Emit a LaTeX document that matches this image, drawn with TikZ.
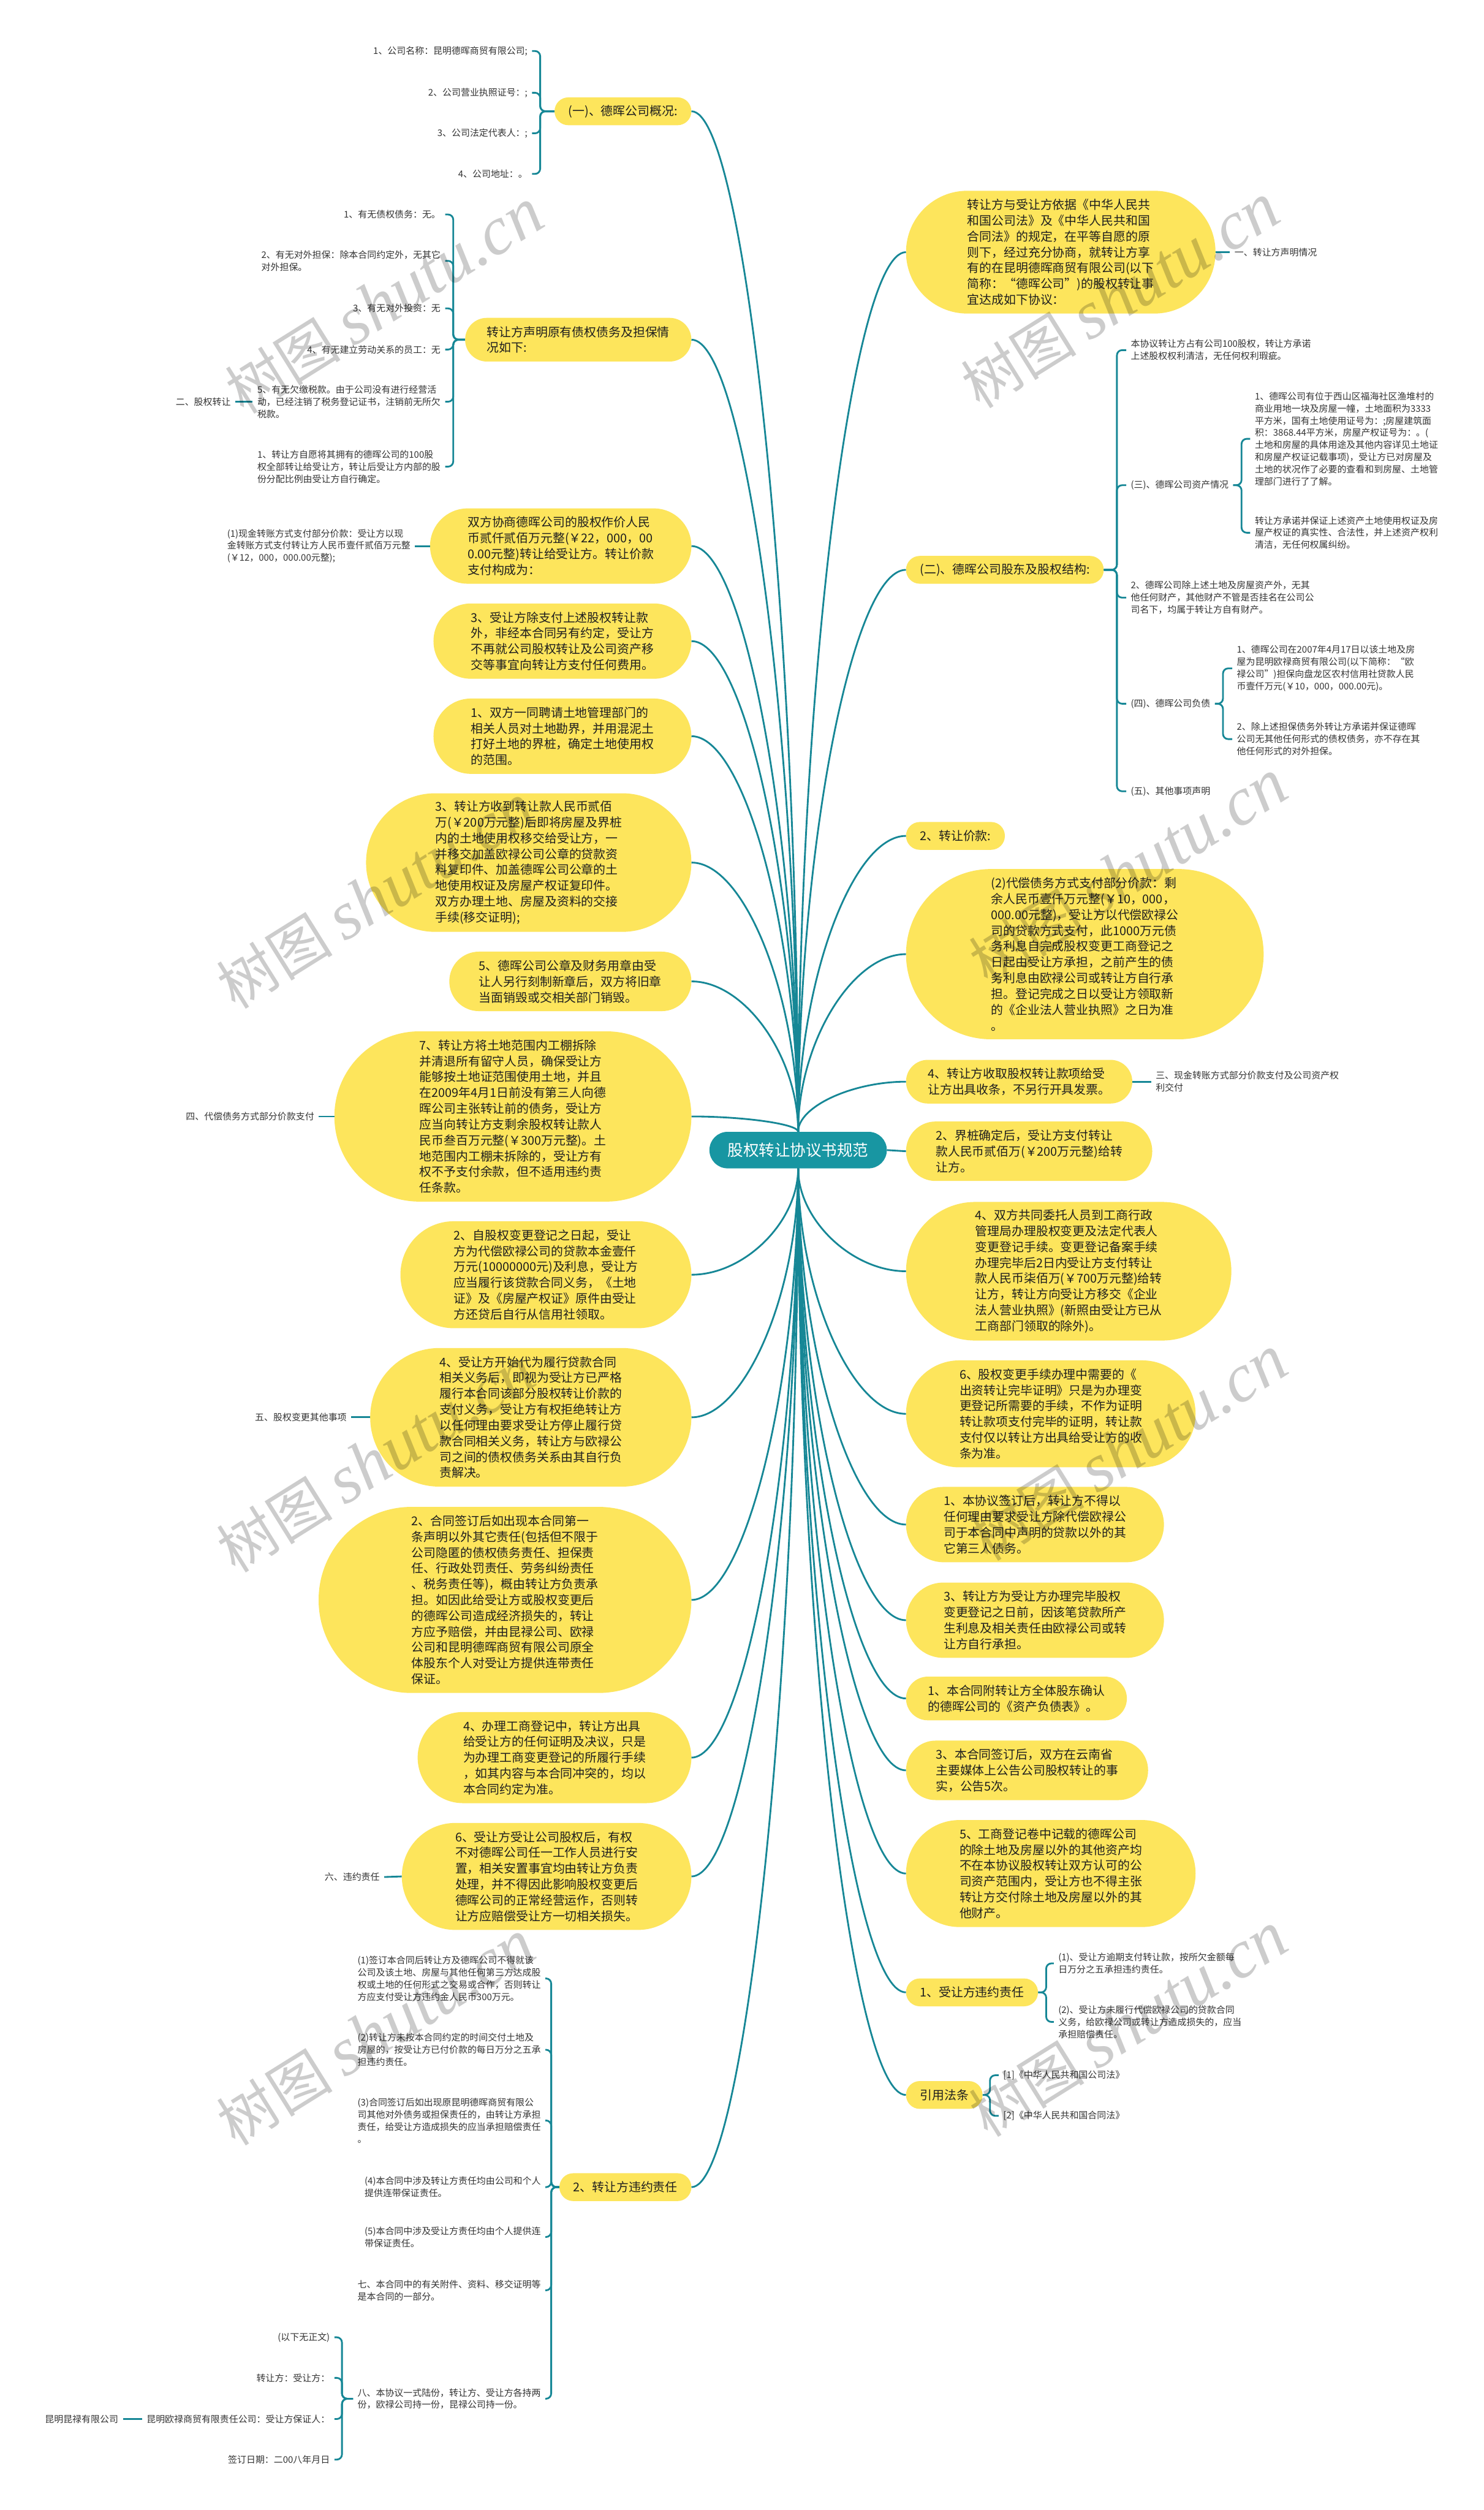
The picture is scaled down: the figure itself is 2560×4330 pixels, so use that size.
\documentclass[tikz,border=0pt]{standalone}
\usepackage{fontspec}
\newfontfamily\cjk{Noto Sans CJK SC}
\newfontfamily\wmlat{Liberation Serif}
\usetikzlibrary{calc}
\definecolor{yelc}{RGB}{253,229,92}
\definecolor{teal1}{RGB}{24,150,162}
\definecolor{linec}{RGB}{22,135,150}
\definecolor{txtd}{RGB}{30,30,30}
\definecolor{txtl}{RGB}{51,51,51}
\newcommand\yfont{\cjk\fontsize{21}{27.3}\selectfont}
\newcommand\lfont{\cjk\fontsize{15.8}{21}\selectfont}
\newcommand\rfont{\cjk\fontsize{27}{32}\selectfont}
\newcommand\mconn[2]{\draw[conn] let \p1=(#1), \p2=(#2) in (\p1) .. controls (\x1,{0.5*(\y1+\y2)}) and ({0.5*(\x1+\x2)},\y2) .. (\p2);}
\newcommand\brL[3]{\draw[br] (#1.west) -| (#2.east -| #3) -- (#2.east);}
\newcommand\brR[3]{\draw[br] (#1.east) -| (#2.west -| #3) -- (#2.west);}
\newcommand\wmtext{{\cjk\fontsize{100}{100}\selectfont 树图}\hspace{22pt}{\wmlat\itshape\fontsize{118}{118}\selectfont shutu.cn}}
\tikzset{
 yel/.style={rectangle, fill=yelc, minimum height={(#1-1)*27.3+48}, rounded corners={((#1-1)*27.3+48)/2-0.2}, inner xsep={((#1-1)*27.3+48)/2}, inner ysep=0pt, align=left, font=\yfont, text=txtd},
 leaf/.style={inner xsep=0pt, inner ysep=1pt, outer xsep=8pt, align=left, font=\lfont, text=txtl},
 conn/.style={draw=linec, line width=3pt},
 br/.style={conn, rounded corners=9pt},
 rootn/.style={rectangle, fill=teal1, minimum height=63pt, rounded corners=31.3pt, inner xsep=31.5pt, inner ysep=0pt, font=\rfont, text=white},
 wm/.style={rotate=32, text=black, text opacity=0.2, inner sep=0pt}
}
\begin{document}
\begin{tikzpicture}[x=1pt,y=-1pt]
\fill[white] (0,0) rectangle (2560,4330);
\useasboundingbox (0,0) rectangle (2560,4330);

\node[rootn] (root) at (1377,1984) {股权转让协议书规范};

% ---------- left main nodes ----------
\node[yel=1, anchor=east] (L1) at (1193,192) {(一)、德晖公司概况:};
\node[yel=2, anchor=east] (L2) at (1193,586) {转让方声明原有债权债务及担保情\\况如下:};
\node[yel=4, anchor=east] (L3) at (1193,942) {双方协商德晖公司的股权作价人民\\币贰仟贰佰万元整(￥22，000，00\\0.00元整)转让给受让方。转让价款\\支付构成为：};
\node[yel=4, anchor=east] (L4) at (1193,1106) {3、受让方除支付上述股权转让款\\外，非经本合同另有约定，受让方\\不再就公司股权转让及公司资产移\\交等事宜向转让方支付任何费用。};
\node[yel=4, anchor=east] (L5) at (1193,1270) {1、双方一同聘请土地管理部门的\\相关人员对土地勘界，并用混泥土\\打好土地的界桩，确定土地使用权\\的范围。};
\node[yel=8, anchor=east] (L6) at (1193,1488) {3、转让方收到转让款人民币贰佰\\万(￥200万元整)后即将房屋及界桩\\内的土地使用权移交给受让方，一\\并移交加盖欧禄公司公章的贷款资\\料复印件、加盖德晖公司公章的土\\地使用权证及房屋产权证复印件。\\双方办理土地、房屋及资料的交接\\手续(移交证明);};
\node[yel=3, anchor=east] (L7) at (1193,1693) {5、德晖公司公章及财务用章由受\\让人另行刻制新章后，双方将旧章\\当面销毁或交相关部门销毁。};
\node[yel=10, anchor=east] (L8) at (1193,1926) {7、转让方将土地范围内工棚拆除\\并清退所有留守人员，确保受让方\\能够按土地证范围使用土地，并且\\在2009年4月1日前没有第三人向德\\晖公司主张转让前的债务，受让方\\应当向转让方支剩余股权转让款人\\民币叁百万元整(￥300万元整)。土\\地范围内工棚未拆除的，受让方有\\权不予支付余款，但不适用违约责\\任条款。};
\node[yel=6, anchor=east] (L9) at (1193,2199) {2、自股权变更登记之日起，受让\\方为代偿欧禄公司的贷款本金壹仟\\万元(10000000元)及利息，受让方\\应当履行该贷款合同义务，《土地\\证》及《房屋产权证》原件由受让\\方还贷后自行从信用社领取。};
\node[yel=8, anchor=east] (L10) at (1193,2445) {4、受让方开始代为履行贷款合同\\相关义务后，即视为受让方已严格\\履行本合同该部分股权转让价款的\\支付义务，受让方有权拒绝转让方\\以任何理由要求受让方停止履行贷\\款合同相关义务，转让方与欧禄公\\司之间的债权债务关系由其自行负\\责解决。};
\node[yel=11, anchor=east] (L11) at (1193,2760) {2、合同签订后如出现本合同第一\\条声明以外其它责任(包括但不限于\\公司隐匿的债权债务责任、担保责\\任、行政处罚责任、劳务纠纷责任\\、税务责任等)，概由转让方负责承\\担。如因此给受让方或股权变更后\\的德晖公司造成经济损失的，转让\\方应予赔偿，并由昆禄公司、欧禄\\公司和昆明德晖商贸有限公司原全\\体股东个人对受让方提供连带责任\\保证。};
\node[yel=5, anchor=east] (L12) at (1193,3032) {4、办理工商登记中，转让方出具\\给受让方的任何证明及决议，只是\\为办理工商变更登记的所履行手续\\，如其内容与本合同冲突的，均以\\本合同约定为准。};
\node[yel=6, anchor=east] (L13) at (1193,3237) {6、受让方受让公司股权后，有权\\不对德晖公司任一工作人员进行安\\置，相关安置事宜均由转让方负责\\处理，并不得因此影响股权变更后\\德晖公司的正常经营运作，否则转\\让方应赔偿受让方一切相关损失。};
\node[yel=1, anchor=east] (L14) at (1193,3773) {2、转让方违约责任};

% ---------- right main nodes ----------
\node[yel=7, anchor=west] (R1) at (1563,435) {转让方与受让方依据《中华人民共\\和国公司法》及《中华人民共和国\\合同法》的规定，在平等自愿的原\\则下，经过充分协商，就转让方享\\有的在昆明德晖商贸有限公司(以下\\简称：“德晖公司”)的股权转让事\\宜达成如下协议：};
\node[yel=1, anchor=west] (R2) at (1563,983) {(二)、德晖公司股东及股权结构:};
\node[yel=1, anchor=west] (R3) at (1563,1442) {2、转让价款:};
\node[yel=10, anchor=west] (R4) at (1563,1646) {(2)代偿债务方式支付部分价款：剩\\余人民币壹仟万元整(￥10，000，\\000.00元整)，受让方以代偿欧禄公\\司的贷款方式支付，此1000万元债\\务利息自完成股权变更工商登记之\\日起由受让方承担，之前产生的债\\务利息由欧禄公司或转让方自行承\\担。登记完成之日以受让方领取新\\的《企业法人营业执照》之日为准\\。};
\node[yel=2, anchor=west] (R5) at (1563,1866) {4、转让方收取股权转让款项给受\\让方出具收条，不另行开具发票。};
\node[yel=3, anchor=west] (R6) at (1563,1986) {2、界桩确定后，受让方支付转让\\款人民币贰佰万(￥200万元整)给转\\让方。};
\node[yel=8, anchor=west] (R7) at (1563,2193) {4、双方共同委托人员到工商行政\\管理局办理股权变更及法定代表人\\变更登记手续。变更登记备案手续\\办理完毕后2日内受让方支付转让\\款人民币柒佰万(￥700万元整)给转\\让方，转让方向受让方移交《企业\\法人营业执照》(新照由受让方已从\\工商部门领取的除外)。};
\node[yel=6, anchor=west] (R8) at (1563,2439) {6、股权变更手续办理中需要的《\\出资转让完毕证明》只是为办理变\\更登记所需要的手续，不作为证明\\转让款项支付完毕的证明，转让款\\支付仅以转让方出具给受让方的收\\条为准。};
\node[yel=4, anchor=west] (R9) at (1563,2630) {1、本协议签订后，转让方不得以\\任何理由要求受让方除代偿欧禄公\\司于本合同中声明的贷款以外的其\\它第三人债务。};
\node[yel=4, anchor=west] (R10) at (1563,2795) {3、转让方为受让方办理完毕股权\\变更登记之日前，因该笔贷款所产\\生利息及相关责任由欧禄公司或转\\让方自行承担。};
\node[yel=2, anchor=west] (R11) at (1563,2930) {1、本合同附转让方全体股东确认\\的德晖公司的《资产负债表》。};
\node[yel=3, anchor=west] (R12) at (1563,3054) {3、本合同签订后，双方在云南省\\主要媒体上公告公司股权转让的事\\实，公告5次。};
\node[yel=6, anchor=west] (R13) at (1563,3232) {5、工商登记卷中记载的德晖公司\\的除土地及房屋以外的其他资产均\\不在本协议股权转让双方认可的公\\司资产范围内，受让方也不得主张\\转让方交付除土地及房屋以外的其\\他财产。};
\node[yel=1, anchor=west] (R14) at (1563,3437) {1、受让方违约责任};
\node[yel=1, anchor=west] (R15) at (1563,3614) {引用法条};

% ---------- bracket x positions ----------
\coordinate (xa) at (932,0);
\coordinate (xb) at (782,0);
\coordinate (xg) at (951,0);
\coordinate (xh) at (590,0);
\coordinate (xs) at (1927,0);
\coordinate (xs3) at (2142,0);
\coordinate (xs4) at (2110,0);
\coordinate (xu) at (1805,0);
\coordinate (xv) at (1708,0);

% ---------- leaves: left ----------
\node[leaf, anchor=east] (a1) at (918,88) {1、公司名称：昆明德晖商贸有限公司;};
\node[leaf, anchor=east] (a2) at (918,160) {2、公司营业执照证号：;};
\node[leaf, anchor=east] (a3) at (918,230) {3、公司法定代表人：;};
\node[leaf, anchor=east] (a4) at (918,300) {4、公司地址：。};

\node[leaf, anchor=east] (b1) at (768,370) {1、有无债权债务：无。};
\node[leaf, anchor=east] (b2) at (768,450) {2、有无对外担保：除本合同约定外，无其它\\对外担保。};
\node[leaf, anchor=east] (b3) at (768,532) {3、有无对外投资：无};
\node[leaf, anchor=east] (b4) at (768,603) {4、有无建立劳动关系的员工：无};
\node[leaf, anchor=east] (b5) at (768,693) {5、有无欠缴税款。由于公司没有进行经营活\\动，已经注销了税务登记证书，注销前无所欠\\税款。};
\node[leaf, anchor=east] (b6) at (768,805) {1、转让方自愿将其拥有的德晖公司的100股\\权全部转让给受让方，转让后受让方内部的股\\份分配比例由受让方自行确定。};
\node[leaf, anchor=east] (b7) at (406,693) {二、股权转让};

\node[leaf, anchor=east] (c1) at (716,942) {(1)现金转账方式支付部分价款：受让方以现\\金转账方式支付转让方人民币壹仟贰佰万元整\\(￥12，000，000.00元整);};
\node[leaf, anchor=east] (d1) at (550,1926) {四、代偿债务方式部分价款支付};
\node[leaf, anchor=east] (e1) at (606,2445) {五、股权变更其他事项};
\node[leaf, anchor=east] (f1) at (663,3238) {六、违约责任};

\node[leaf, anchor=east] (g1) at (941,3413) {(1)签订本合同后转让方及德晖公司不得就该\\公司及该土地、房屋与其他任何第三方达成股\\权或土地的任何形式之交易或合作，否则转让\\方应支付受让方违约金人民币300万元。};
\node[leaf, anchor=east] (g2) at (941,3536) {(2)转让方未按本合同约定的时间交付土地及\\房屋的，按受让方已付价款的每日万分之五承\\担违约责任。};
\node[leaf, anchor=east] (g3) at (941,3658) {(3)合同签订后如出现原昆明德晖商贸有限公\\司其他对外债务或担保责任的，由转让方承担\\责任，给受让方造成损失的应当承担赔偿责任\\。};
\node[leaf, anchor=east] (g4) at (941,3773) {(4)本合同中涉及转让方责任均由公司和个人\\提供连带保证责任。};
\node[leaf, anchor=east] (g5) at (941,3859) {(5)本合同中涉及受让方责任均由个人提供连\\带保证责任。};
\node[leaf, anchor=east] (g6) at (941,3951) {七、本合同中的有关附件、资料、移交证明等\\是本合同的一部分。};
\node[leaf, anchor=east] (g7) at (941,4138) {八、本协议一式陆份，转让方、受让方各持两\\份，欧禄公司持一份，昆禄公司持一份。};

\node[leaf, anchor=east] (h1) at (577,4032) {(以下无正文)};
\node[leaf, anchor=east] (h2) at (577,4102) {转让方：受让方：};
\node[leaf, anchor=east] (h3) at (577,4173) {昆明欧禄商贸有限责任公司：受让方保证人：};
\node[leaf, anchor=east] (h4) at (577,4243) {签订日期：二00八年月日};
\node[leaf, anchor=east] (h5) at (212,4173) {昆明昆禄有限公司};

% ---------- leaves: right ----------
\node[leaf, anchor=west] (r1k) at (2122,435) {一、转让方声明情况};

\node[leaf, anchor=west] (s1) at (1943,604) {本协议转让方占有公司100股权，转让方承诺\\上述股权权利清洁，无任何权利瑕疵。};
\node[leaf, anchor=west] (s2) at (1943,837) {(三)、德晖公司资产情况};
\node[leaf, anchor=west] (s3) at (1943,1031) {2、德晖公司除上述土地及房屋资产外，无其\\他任何财产，其他财产不管是否挂名在公司公\\司名下，均属于转让方自有财产。};
\node[leaf, anchor=west] (s4) at (1943,1214) {(四)、德晖公司负债};
\node[leaf, anchor=west] (s5) at (1943,1365) {(五)、其他事项声明};
\node[leaf, anchor=west] (s6) at (2157,757) {1、德晖公司有位于西山区福海社区渔堆村的\\商业用地一块及房屋一幢，土地面积为3333\\平方米，国有土地使用证号为：;房屋建筑面\\积：3868.44平方米，房屋产权证号为：。(\\土地和房屋的具体用途及其他内容详见土地证\\和房屋产权证记载事项)，受让方已对房屋及\\土地的状况作了必要的查看和到房屋、土地管\\理部门进行了了解。};
\node[leaf, anchor=west] (s7) at (2157,919) {转让方承诺并保证上述资产土地使用权证及房\\屋产权证的真实性、合法性，并上述资产权利\\清洁，无任何权属纠纷。};
\node[leaf, anchor=west] (s8) at (2126,1153) {1、德晖公司在2007年4月17日以该土地及房\\屋为昆明欧禄商贸有限公司(以下简称：“欧\\禄公司”)担保向盘龙区农村信用社贷款人民\\币壹仟万元(￥10，000，000.00元)。};
\node[leaf, anchor=west] (s9) at (2126,1275) {2、除上述担保债务外转让方承诺并保证德晖\\公司无其他任何形式的债权债务，亦不存在其\\他任何形式的对外担保。};

\node[leaf, anchor=west] (t1) at (1986,1866) {三、现金转账方式部分价款支付及公司资产权\\利交付};
\node[leaf, anchor=west] (u1) at (1818,3387) {(1)、受让方逾期支付转让款，按所欠金额每\\日万分之五承担违约责任。};
\node[leaf, anchor=west] (u2) at (1818,3488) {(2)、受让方未履行代偿欧禄公司的贷款合同\\义务，给欧禄公司或转让方造成损失的，应当\\承担赔偿责任。};
\node[leaf, anchor=west] (v1) at (1723,3580) {[1]《中华人民共和国公司法》};
\node[leaf, anchor=west] (v2) at (1723,3650) {[2]《中华人民共和国合同法》};

% ---------- root connectors ----------
\foreach \nn in {L1,L2,L3,L4,L5,L6,L7,L8} {\mconn{root.north}{\nn.east}}
\foreach \nn in {L9,L10,L11,L12,L13,L14} {\mconn{root.south}{\nn.east}}
\foreach \nn in {R1,R2,R3,R4,R5} {\mconn{root.north}{\nn.west}}
\foreach \nn in {R7,R8,R9,R10,R11,R12,R13,R14,R15} {\mconn{root.south}{\nn.west}}
\draw[conn] (root.east) -- (R6.west);

% ---------- brackets ----------
\foreach \kk in {a1,a2,a3,a4} {\brL{L1}{\kk}{xa}}
\foreach \kk in {b1,b2,b3,b4,b5,b6} {\brL{L2}{\kk}{xb}}
\foreach \kk in {g1,g2,g3,g4,g5,g6,g7} {\brL{L14}{\kk}{xg}}
\foreach \kk in {h1,h2,h3,h4} {\brL{g7}{\kk}{xh}}
\foreach \kk in {s1,s2,s3,s4,s5} {\brR{R2}{\kk}{xs}}
\foreach \kk in {s6,s7} {\brR{s2}{\kk}{xs3}}
\foreach \kk in {s8,s9} {\brR{s4}{\kk}{xs4}}
\foreach \kk in {u1,u2} {\brR{R14}{\kk}{xu}}
\foreach \kk in {v1,v2} {\brR{R15}{\kk}{xv}}

% ---------- straight connectors ----------
\draw[conn] (b5.west) -- (b7.east);
\draw[conn] (L3.west) -- (c1.east);
\draw[conn] (L8.west) -- (d1.east);
\draw[conn] (L10.west) -- (e1.east);
\draw[conn] (L13.west) -- (f1.east);
\draw[conn] (h3.west) -- (h5.east);
\draw[conn] (R1.east) -- (r1k.west);
\draw[conn] (R5.east) -- (t1.west);

% ---------- watermarks ----------
\foreach \wx/\wy in {663/520,1933/511,649/1547,1947/1505,649/2519,1947/2499,649/3507,1947/3493}
  {\node[wm] at (\wx,\wy) {\wmtext};}
\end{tikzpicture}
\end{document}
